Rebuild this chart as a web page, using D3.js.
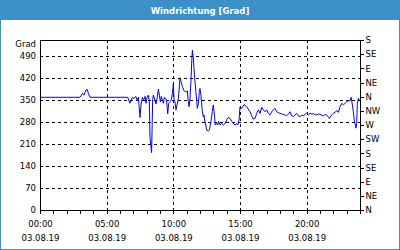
<!DOCTYPE html>
<html>
<head>
<meta charset="utf-8">
<script src="https://cdn.jsdelivr.net/npm/d3@7"></script>
<style>
  body { margin: 0; background: #fff; }
  text { font-family: "DejaVu Sans", sans-serif; }
</style>
</head>
<body>
<script>
// Wind direction over one day (hours since 00:00, degrees)
const hours = [0, 3.0, 3.2, 3.3, 3.45, 3.55, 3.62, 3.75, 6.58,
  6.68, 6.75, 6.8, 6.93, 7.05, 7.18, 7.28, 7.38, 7.5, 7.58, 7.68, 7.78, 7.88, 7.95, 8.03, 8.13, 8.2,
  8.25, 8.37, 8.45, 8.5, 8.62, 8.7, 8.78, 8.88, 8.95, 9.03, 9.1, 9.18, 9.25, 9.33, 9.43, 9.5, 9.58,
  9.65, 9.75, 9.85, 9.93, 10.0, 10.05, 10.12, 10.2, 10.3, 10.38, 10.5, 10.58, 10.68, 10.78, 10.88,
  10.98, 11.05, 11.12, 11.18, 11.25, 11.32, 11.38, 11.43, 11.5, 11.55, 11.6, 11.68, 11.75, 11.8,
  11.88, 11.95, 12.0, 12.07, 12.12, 12.18, 12.25, 12.3, 12.35, 12.43, 12.5, 12.62, 12.7, 12.75,
  12.82, 12.92, 13.0, 13.08, 13.15, 13.25, 13.33, 13.4, 13.5, 13.63, 13.75, 13.88, 14.0, 14.13,
  14.25, 14.38, 14.5, 14.63, 14.75, 14.83, 14.93, 15.0, 15.13, 15.3, 15.5, 15.75, 15.88, 16.0,
  16.13, 16.25, 16.38, 16.5, 16.63, 16.75, 16.88, 17.0, 17.13, 17.25, 17.38, 17.5, 17.63, 17.75,
  17.88, 18.0, 18.13, 18.25, 18.38, 18.5, 18.63, 18.75, 18.88, 19.0, 19.13, 19.25, 19.38, 19.5,
  19.63, 19.75, 19.88, 20.0, 20.13, 20.25, 20.38, 20.5, 20.63, 20.75, 20.88, 21.0, 21.13, 21.25,
  21.38, 21.5, 21.7, 21.88, 22.0, 22.13, 22.25, 22.38, 22.5, 22.63, 22.75, 22.88, 23.0, 23.13,
  23.25, 23.33, 23.43, 23.5, 23.58, 23.65, 23.7, 23.75, 23.8, 23.88, 23.95];
const degrees = [358, 358, 371, 365, 381, 383, 371, 358, 358,
  346, 339, 346, 358, 354, 361, 350, 358, 294, 336, 358, 350, 361, 339, 358, 365, 343,
  229, 182, 350, 365, 350, 337, 354, 384, 365, 343, 361, 350, 339, 358, 354, 346, 305,
  339, 344, 350, 371, 400, 349, 344, 318, 339, 355, 420, 408, 392, 381, 376,
  376, 378, 344, 328, 355, 408, 470, 508, 482, 450, 418, 381, 349, 323,
  339, 376, 386, 365, 339, 312, 296, 302, 286, 270, 254, 251, 254, 265,
  281, 312, 334, 302, 270, 275, 270, 281, 270, 275, 270, 275, 286, 294,
  291, 281, 275, 270, 275, 270, 286, 328, 323, 335, 328, 312, 299, 289,
  291, 307, 318, 307, 326, 318, 312, 318, 307, 302, 312, 318, 323, 312,
  309, 307, 305, 304, 302, 299, 305, 312, 299, 297, 302, 307, 299, 297,
  301, 299, 304, 307, 302, 307, 305, 306, 303, 302, 305, 304, 301, 299,
  303, 302, 291, 302, 307, 310, 316, 310, 328, 339, 334, 339, 344, 347,
  347, 358, 334, 312, 281, 270, 260, 275, 339, 355, 349];

const leftTicks = [0, 70, 140, 210, 280, 350, 420, 490];
const compassTicks = [0, 45, 90, 135, 180, 225, 270, 315, 360, 405, 450, 495, 540];
const compassLabels = ["N", "NE", "E", "SE", "S", "SW", "W", "NW", "N", "NE", "E", "SE", "S"];
const hourTicks = d3.range(0, 25);
const labelHours = [0, 5, 10, 15, 20];
const dateLabel = "03.08.19";
const title = "Windrichtung [Grad]";
const unit = "Grad";

const W = 400, H = 250;
const plotL = 40, plotR = 360, plotT = 40, plotB = 210;
const blue = "#3c8fc7";

const svg = d3.select("body").append("svg")
    .attr("width", W)
    .attr("height", H);

// frame + title bar
svg.append("rect").attr("width", W).attr("height", H).attr("fill", blue);
svg.append("rect").attr("x", 1).attr("y", 20).attr("width", W - 2).attr("height", H - 21).attr("fill", "#fff");
svg.append("text")
    .attr("x", W / 2).attr("y", 13.5)
    .attr("text-anchor", "middle")
    .attr("fill", "#fff")
    .attr("font-weight", "bold")
    .attr("font-size", "8.5px")
    .text(title);

const x = d3.scaleLinear().domain([0, 24]).range([plotL, plotR]);
const y = d3.scaleLinear().domain([0, 540]).range([plotB, plotT]);

// dashed grid
const grid = svg.append("g")
    .attr("stroke", "#000")
    .attr("stroke-dasharray", "3,3")
    .attr("shape-rendering", "crispEdges");
grid.selectAll(".h").data(leftTicks.slice(1))
    .join("line")
    .attr("x1", plotL).attr("x2", plotR)
    .attr("y1", d => Math.round(y(d)) + 0.5).attr("y2", d => Math.round(y(d)) + 0.5);
grid.selectAll(".v").data(labelHours.slice(1))
    .join("line")
    .attr("y1", plotT).attr("y2", plotB)
    .attr("x1", d => Math.round(x(d)) + 0.5).attr("x2", d => Math.round(x(d)) + 0.5);

// data line
svg.append("path")
    .datum(hours.map((h, i) => [h, degrees[i]]))
    .attr("fill", "none")
    .attr("stroke", "#0000ff")
    .attr("stroke-width", 1)
    .attr("d", d3.line().x(d => x(d[0])).y(d => y(d[1])));

// plot box
svg.append("rect")
    .attr("x", plotL + 0.5).attr("y", plotT + 0.5)
    .attr("width", plotR - plotL).attr("height", plotB - plotT)
    .attr("fill", "none").attr("stroke", "#000")
    .attr("shape-rendering", "crispEdges");

// left axis (labels only)
const yAxis = svg.append("g")
    .attr("transform", `translate(${plotL},0)`)
    .call(d3.axisLeft(y).tickValues(leftTicks).tickSize(0).tickPadding(4));
yAxis.select(".domain").remove();
svg.append("text")
    .attr("x", plotL - 4).attr("y", 44).attr("dy", "0.35em")
    .attr("text-anchor", "end").attr("font-size", "8.5px")
    .text(unit);

// right axis with compass directions
const rAxis = svg.append("g")
    .attr("transform", `translate(${plotR + 0.5},0)`)
    .call(d3.axisRight(y).tickValues(compassTicks).tickSize(3).tickPadding(2)
        .tickFormat((d, i) => compassLabels[i]));
rAxis.select(".domain").remove();

// bottom axis: hourly ticks, labels every 5 hours with date line
const xAxis = svg.append("g")
    .attr("transform", `translate(0,${plotB + 0.5})`)
    .call(d3.axisBottom(x).tickValues(hourTicks).tickSize(3).tickPadding(7)
        .tickFormat(d => labelHours.includes(d) ? d3.format("02")(d) + ":00" : ""));
xAxis.select(".domain").remove();
xAxis.selectAll(".tick text")
    .filter(d => labelHours.includes(d))
    .append("tspan")
    .attr("x", 0).attr("dy", "1.75em")
    .text(dateLabel);

svg.selectAll(".tick text").attr("font-size", "8.5px").attr("font-family", "DejaVu Sans").attr("fill", "#000");
svg.selectAll(".tick line").attr("stroke", "#000").attr("shape-rendering", "crispEdges");
</script>
</body>
</html>
